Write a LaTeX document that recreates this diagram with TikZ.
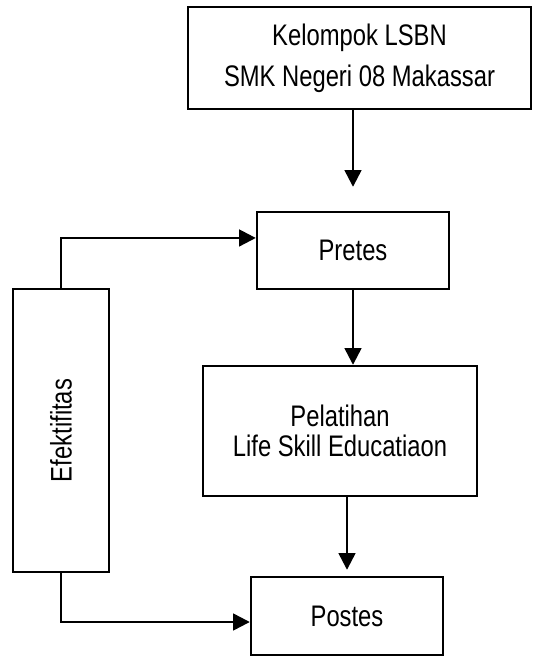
\documentclass[tikz,border=0pt]{standalone}
\usepackage{fontspec}
\setmainfont{Liberation Sans}[FakeStretch=0.8]
\usetikzlibrary{arrows.meta}

\tikzset{
  box/.style={draw, line width=1.8pt, inner sep=0pt, align=center,
    font=\fontsize{22.3}{23}\selectfont},
  flow/.style={line width=1.8pt, -{Triangle[length=12.5pt,width=12.5pt]}}
}

\begin{document}
\begin{tikzpicture}[x=0.75pt,y=-0.75pt]
  \useasboundingbox (0,0) rectangle (532,656);

  \node [box, minimum width=257.25pt, minimum height=76.5pt] (lsbn) at (359.5,58)
    {Kelompok LSBN\\[8pt]SMK Negeri 08 Makassar};
  \node [box, minimum width=144pt, minimum height=57.75pt] (pretes) at (353,250.5) {Pretes};
  \node [box, minimum width=205.5pt, minimum height=97.5pt] (latih) at (340,431)
    {Pelatihan\\Life Skill Educatiaon};
  \node [box, minimum width=144pt, minimum height=58.5pt] (postes) at (347,616) {Postes};
  \node [box, rotate=90, minimum width=212.25pt, minimum height=72pt] (efek) at (61,430.5) {Efektifitas};

  \draw [flow, shorten >=18pt] (pretes.north |- lsbn.south) -- (pretes.north);
  \draw [flow] (pretes.south) -- (pretes.south |- latih.north);
  \draw [flow, shorten >=4.5pt] (postes.north |- latih.south) -- (postes.north);

  \draw [flow] (efek.east) |- ([yshift=9.4pt]pretes.west);
  \draw [flow] (efek.west) |- ([yshift=-4.5pt]postes.west);
\end{tikzpicture}
\end{document}
